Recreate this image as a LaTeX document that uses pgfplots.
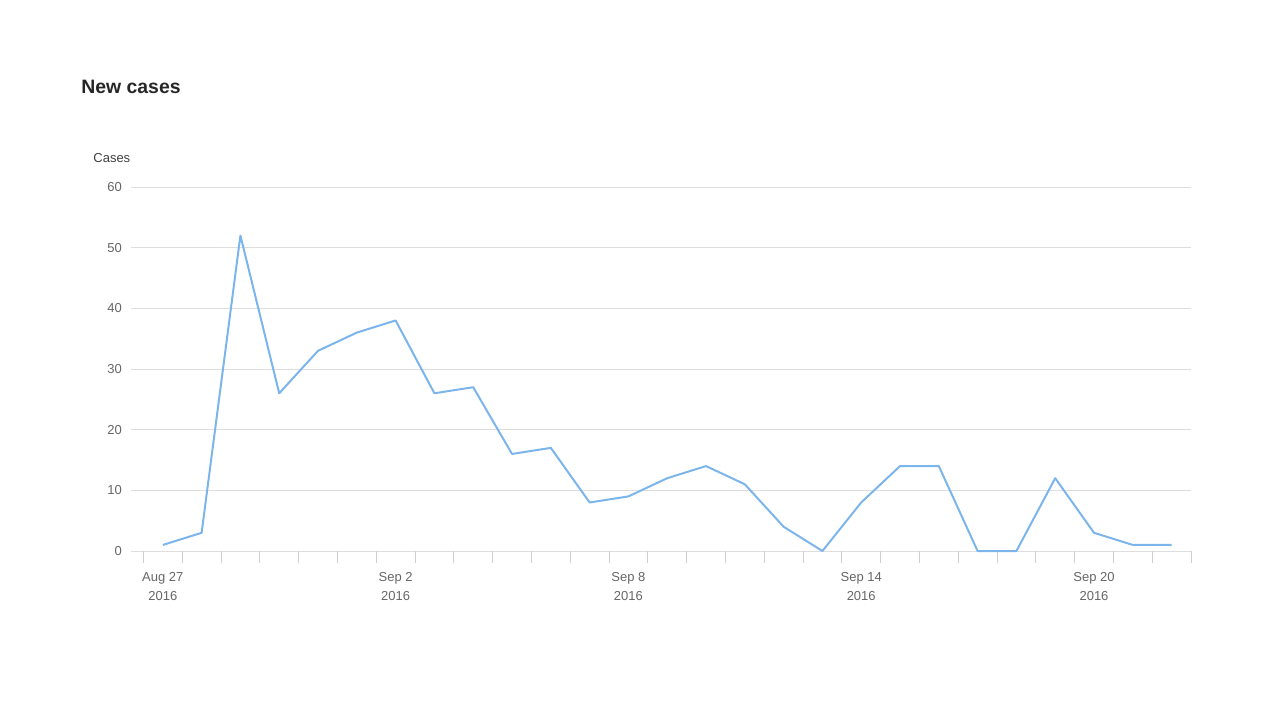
\documentclass[border=0pt]{standalone}
\usepackage{pgfplots}
\pgfplotsset{compat=1.18}
\usepackage{fontspec}
\setmainfont{Liberation Sans}
\definecolor{serie}{HTML}{7CB5EC}
\definecolor{gridc}{HTML}{DEDEDE}
\definecolor{tickc}{HTML}{D0D0D0}
\definecolor{labc}{HTML}{666666}
\begin{document}
\begin{tikzpicture}[x=1pt,y=1pt]
\path[use as bounding box] (0,0) rectangle (640,360);
\node[anchor=west,font=\fontsize{9.7}{12}\selectfont\bfseries,text=black!85,inner sep=0] at (40.5,316.5) {New cases};
\node[anchor=west,font=\fontsize{6.5}{8}\selectfont,text=black!75,inner sep=0] at (46.5,281) {Cases};
\begin{axis}[
  at={(65.5pt,84.5pt)}, anchor=south west,
  scale only axis, width=530pt, height=182pt,
  xmin=-0.82, xmax=26.5, ymin=0, ymax=60,
  axis line style={draw=none},
  ytick={0,10,...,60},
  ymajorgrids, y grid style={gridc, line width=0.5pt},
  y tick style={draw=none},
  xtick={-0.5,0.5,...,26.5}, xticklabels={},
  xtick pos=bottom, xtick align=outside,
  major tick length=6pt,
  x tick style={tickc, line width=0.5pt},
  extra x ticks={0,6,12,18,24},
  extra x tick labels={{Aug 27\\2016},{Sep 2\\2016},{Sep 8\\2016},{Sep 14\\2016},{Sep 20\\2016}},
  extra x tick style={major tick length=0pt, xticklabel style={align=center, yshift=-7pt}},
  /pgf/number format/assume math mode=true,
  tick label style={font=\fontsize{6.5}{9.5}\selectfont, text=labc},
  yticklabel style={xshift=-1pt},
  clip=false,
]
\addplot[serie, line width=1pt, mark=none, line join=round] coordinates {
(0,1) (1,3) (2,52) (3,26) (4,33) (5,36) (6,38) (7,26) (8,27) (9,16)
(10,17) (11,8) (12,9) (13,12) (14,14) (15,11) (16,4) (17,0) (18,8) (19,14)
(20,14) (21,0) (22,0) (23,12) (24,3) (25,1) (26,1)
};
\end{axis}
\end{tikzpicture}
\end{document}
